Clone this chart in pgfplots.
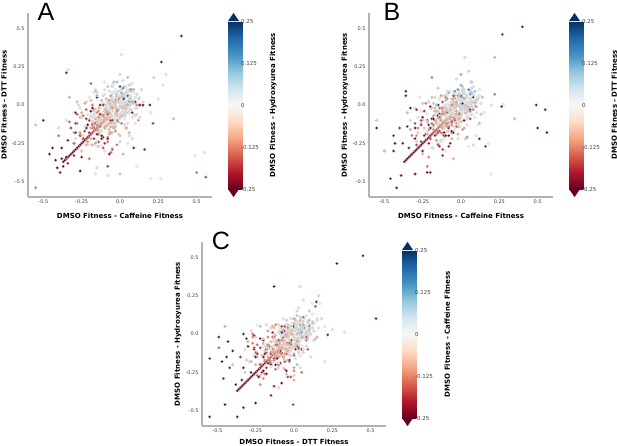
\documentclass[border=0pt]{standalone}
\usepackage{pgfplots}
\pgfplotsset{compat=1.18}
\usepackage{pgfplotstable}
\usepackage{fontspec}
\setmainfont{DejaVu Sans}
\newfontfamily\letterfont{Liberation Sans}
\definecolor{cbred}{RGB}{103,0,31}
\definecolor{cbblue}{RGB}{5,48,97}
\pgfplotsset{colormap={RdBu}{rgb255=(103,0,31) rgb255=(178,24,43) rgb255=(214,96,77) rgb255=(244,165,130) rgb255=(253,219,199) rgb255=(247,247,247) rgb255=(209,229,240) rgb255=(146,197,222) rgb255=(67,147,195) rgb255=(33,102,172) rgb255=(5,48,97)}}

% shared genes: c = DMSO-Caffeine, d = DMSO-DTT, h = DMSO-Hydroxyurea
\pgfplotstableread{
c d h
0.08 0.10 0.06
0.02 0.07 0.10
0.06 0.01 0.04
0.10 0.05 0.02
0.03 0.12 0.07
0.07 0.04 0.11
0.00 0.06 0.03
0.05 0.09 -0.01
0.04 0.02 0.05
0.01 0.08 0.00
0.07 0.00 0.06
-0.01 0.04 0.08
0.05 0.06 -0.02
0.09 0.03 0.03
0.02 -0.02 0.04
0.06 0.10 0.02
0.00 0.01 0.02
-0.03 0.05 -0.01
0.04 -0.03 0.01
0.02 0.03 -0.05
-0.04 -0.01 0.04
0.06 0.04 0.00
-0.02 0.07 0.05
0.01 -0.05 -0.02
0.03 0.00 0.07
-0.05 0.02 -0.03
-0.01 -0.02 0.00
-0.04 0.03 -0.05
0.02 -0.04 -0.01
-0.06 0.00 0.02
0.00 0.02 -0.06
-0.03 -0.06 0.01
0.03 0.01 -0.03
-0.05 0.05 0.03
0.01 -0.01 -0.04
-0.02 0.04 0.04
-0.05 -0.04 -0.06
-0.08 0.00 -0.03
-0.02 -0.07 -0.05
-0.06 -0.02 0.00
-0.03 -0.05 -0.09
-0.09 -0.06 -0.04
-0.04 0.01 -0.07
-0.07 -0.03 -0.01
0.00 -0.06 -0.03
-0.06 -0.08 -0.06
-0.08 -0.07 -0.09
-0.11 -0.05 -0.06
-0.05 -0.10 -0.08
-0.09 -0.04 -0.12
-0.12 -0.09 -0.05
-0.06 -0.06 -0.10
-0.10 -0.11 -0.07
-0.07 -0.03 -0.04
-0.11 -0.10 -0.12
-0.14 -0.08 -0.09
-0.08 -0.13 -0.11
-0.12 -0.12 -0.15
-0.15 -0.11 -0.08
-0.09 -0.09 -0.14
-0.13 -0.14 -0.10
-0.15 -0.13 -0.17
-0.18 -0.12 -0.14
-0.12 -0.17 -0.15
-0.16 -0.16 -0.19
-0.19 -0.15 -0.12
-0.13 -0.14 -0.18
-0.20 -0.18 -0.22
-0.23 -0.17 -0.19
-0.17 -0.22 -0.20
-0.21 -0.21 -0.25
-0.25 -0.05 -0.10
-0.22 0.02 -0.06
-0.18 -0.08 0.01
-0.28 -0.12 -0.15
-0.20 0.05 -0.02
-0.15 0.08 -0.04
-0.10 0.10 0.03
-0.12 -0.20 -0.06
-0.05 -0.18 -0.10
0.05 -0.12 -0.04
0.08 -0.08 0.02
0.10 -0.02 -0.05
0.12 0.04 0.06
-0.08 0.12 0.08
-0.02 0.15 0.10
0.02 0.16 0.04
-0.16 -0.25 -0.12
-0.08 -0.24 -0.15
0.00 -0.20 -0.08
-0.24 -0.20 -0.04
-0.30 -0.18 -0.12
-0.18 0.00 -0.14
-0.12 0.03 -0.10
-0.06 0.06 -0.12
0.04 0.08 -0.08
-0.10 -0.14 0.05
-0.04 -0.10 0.06
-0.14 -0.04 0.04
0.06 -0.05 0.09
-0.20 -0.10 -0.20
-0.25 -0.08 -0.32
-0.18 -0.02 -0.28
-0.10 0.00 -0.30
-0.05 -0.10 -0.35
0.05 0.00 -0.27
-0.22 -0.15 -0.40
-0.12 -0.22 -0.33
0.08 -0.05 -0.26
-0.30 -0.25 -0.45
-0.02 0.04 -0.22
0.10 0.02 -0.20
-0.15 0.05 -0.25
-0.10 -0.30 -0.05
-0.05 -0.28 0.02
0.02 -0.32 -0.10
-0.20 -0.35 -0.15
-0.15 -0.27 0.00
0.05 -0.25 -0.02
-0.25 -0.30 -0.08
0.08 -0.22 0.05
-0.08 -0.40 -0.20
-0.30 -0.33 -0.22
-0.02 -0.26 -0.14
0.00 -0.24 0.06
-0.30 -0.05 -0.02
-0.28 0.02 -0.08
-0.35 -0.10 -0.05
-0.32 -0.15 -0.20
-0.27 0.00 0.05
-0.40 -0.20 -0.15
-0.26 -0.08 -0.12
-0.33 0.05 -0.10
-0.38 -0.28 -0.25
-0.29 -0.22 -0.03
0.06 0.06 0.08
0.09 0.08 0.01
-0.01 0.09 0.06
0.04 0.11 0.00
0.08 0.02 0.07
0.11 0.07 0.04
0.01 0.05 0.09
0.05 0.03 -0.03
0.02 0.00 0.03
-0.02 0.02 0.07
0.03 0.05 0.05
0.07 0.06 -0.01
-0.03 0.08 0.02
0.00 0.04 -0.02
0.04 -0.01 0.02
0.01 0.10 0.05
-0.01 -0.03 0.03
-0.04 0.00 -0.02
0.00 -0.01 -0.03
-0.03 0.03 0.01
-0.06 0.04 -0.04
0.02 0.02 0.00
-0.02 -0.04 -0.06
-0.05 -0.02 0.03
0.03 -0.06 -0.02
-0.01 0.06 -0.01
-0.07 -0.05 -0.02
-0.03 -0.02 -0.07
-0.06 -0.06 -0.08
-0.09 -0.02 -0.05
-0.04 -0.08 -0.02
-0.08 -0.09 -0.10
-0.02 -0.03 -0.09
-0.10 -0.07 -0.03
-0.05 0.00 -0.01
-0.07 -0.10 -0.07
-0.10 -0.08 -0.11
-0.13 -0.06 -0.08
-0.07 -0.12 -0.09
-0.11 -0.11 -0.13
-0.14 -0.10 -0.06
-0.09 -0.05 -0.11
-0.13 -0.12 -0.14
-0.16 -0.09 -0.12
-0.10 -0.15 -0.13
-0.17 -0.14 -0.10
-0.17 -0.15 -0.18
-0.21 -0.13 -0.16
-0.14 -0.19 -0.17
-0.24 -0.22 -0.20
-0.26 -0.20 -0.24
-0.26 -0.02 -0.04
-0.21 -0.06 0.02
-0.19 0.03 -0.09
-0.16 0.10 0.00
-0.11 0.06 0.06
-0.07 0.09 -0.03
-0.13 -0.17 -0.02
-0.03 -0.14 -0.12
0.03 -0.09 0.00
0.07 -0.03 -0.06
0.09 0.10 0.09
-0.05 0.13 0.02
0.06 0.13 0.07
-0.22 -0.26 -0.10
-0.28 -0.06 -0.18
-0.04 -0.15 0.04
-0.17 -0.03 -0.18
0.11 -0.06 0.05
0.12 0.00 0.10
0.00 0.12 0.13
-0.19 0.14 0.18
0.00 0.12 0.20
0.05 0.06 0.22
0.07 0.10 0.15
-0.03 0.03 0.17
0.08 0.02 0.12
0.00 0.20 0.05
0.05 0.18 0.10
-0.10 0.15 -0.02
0.15 0.02 -0.05
0.20 -0.05 0.00
0.12 -0.10 -0.12
0.11 -0.02 0.05
-0.03 0.10 0.00
0.06 0.13 -0.04
-0.07 0.01 0.09
0.09 -0.06 -0.01
0.01 0.08 0.12
0.13 0.05 0.01
-0.02 -0.05 0.06
0.04 0.00 -0.07
-0.05 0.12 0.04
0.07 0.09 0.08
0.01 -0.07 0.10
-0.05 0.02 0.08
0.07 -0.03 -0.06
0.10 -0.07 0.03
-0.02 0.06 -0.10
-0.09 -0.04 0.06
0.05 0.09 -0.02
0.02 -0.02 0.10
-0.08 0.03 -0.05
-0.03 -0.10 0.01
0.09 0.01 -0.08
0.06 0.05 0.04
-0.10 0.07 -0.02
-0.01 0.05 -0.08
-0.06 -0.09 0.04
-0.10 0.00 0.07
0.03 -0.13 -0.05
-0.07 0.03 -0.12
0.06 -0.05 0.02
-0.05 0.07 -0.01
0.00 -0.08 -0.11
-0.13 -0.02 -0.06
-0.02 -0.11 0.06
0.02 0.01 0.03
0.04 -0.05 -0.13
-0.14 -0.04 -0.11
0.00 -0.09 0.01
-0.09 -0.13 0.04
0.04 0.00 -0.08
-0.12 -0.10 -0.15
-0.04 0.03 -0.01
-0.16 -0.08 -0.04
-0.01 -0.03 -0.14
-0.07 -0.16 -0.09
0.02 -0.05 0.03
-0.10 -0.01 0.00
-0.04 0.01 -0.16
-0.14 -0.17 -0.07
-0.02 -0.03 -0.12
0.01 -0.12 -0.16
-0.11 0.01 -0.03
-0.18 -0.15 -0.13
-0.04 -0.07 0.00
-0.07 -0.19 -0.11
-0.17 -0.04 -0.06
-0.12 -0.10 -0.19
0.00 -0.01 -0.08
-0.03 -0.13 -0.04
-0.19 -0.07 -0.02
-0.10 -0.07 -0.04
-0.15 -0.19 -0.18
-0.19 -0.22 -0.09
-0.06 -0.10 -0.22
-0.16 -0.03 -0.06
-0.03 -0.17 -0.14
-0.14 -0.14 -0.02
-0.09 -0.04 -0.17
-0.22 -0.09 -0.11
-0.11 -0.21 -0.20
-0.07 -0.18 -0.08
-0.05 -0.02 -0.14
-0.08 -0.21 -0.14
-0.22 -0.09 -0.19
-0.13 -0.06 -0.23
-0.26 -0.18 -0.10
-0.10 -0.25 -0.20
-0.18 -0.11 -0.07
-0.06 -0.14 -0.18
-0.21 -0.24 -0.13
-0.15 -0.19 -0.26
-0.24 -0.07 -0.15
-0.12 -0.10 -0.11
-0.18 -0.26 -0.09
-0.26 -0.19 -0.13
-0.14 -0.24 -0.27
-0.11 -0.28 -0.18
-0.30 -0.25 -0.15
-0.16 -0.12 -0.23
-0.29 -0.18 -0.26
-0.12 -0.20 -0.29
-0.15 -0.16 -0.17
0.06 -0.01 0.03
-0.01 0.06 0.00
0.04 0.07 -0.02
-0.03 0.01 0.05
0.05 -0.03 0.00
0.01 0.05 0.07
0.07 0.03 0.01
-0.01 -0.02 0.04
-0.04 0.00 0.03
0.03 -0.03 -0.04
0.04 -0.05 0.01
-0.02 0.02 -0.06
-0.06 -0.03 0.02
0.02 0.04 -0.02
0.00 -0.02 0.04
-0.05 0.01 -0.04
-0.03 0.00 -0.07
-0.06 -0.07 0.00
-0.08 -0.02 0.01
-0.01 -0.09 -0.05
-0.06 -0.01 -0.09
0.01 -0.05 -0.01
-0.05 0.01 -0.03
-0.02 -0.07 -0.08
-0.03 -0.10 -0.06
-0.10 -0.03 -0.09
-0.05 -0.02 -0.11
-0.12 -0.08 -0.04
-0.04 -0.12 -0.09
-0.08 -0.04 -0.02
-0.02 -0.06 -0.08
-0.10 -0.11 -0.05
-0.13 -0.09 -0.06
-0.06 -0.12 -0.13
-0.05 -0.14 -0.08
-0.11 -0.07 -0.15
-0.15 -0.12 -0.07
-0.07 -0.05 -0.11
-0.09 -0.11 -0.05
-0.14 -0.08 -0.13
0.10 -0.12 -0.01
-0.16 0.09 -0.10
0.02 0.11 -0.15
-0.19 -0.08 0.05
0.06 -0.18 -0.09
-0.09 0.04 0.09
0.11 0.00 -0.13
-0.12 -0.17 0.02
-0.02 -0.10 -0.19
-0.17 0.08 -0.02
-0.17 -0.06 0.05
0.04 -0.15 -0.21
0.06 -0.20 -0.03
-0.13 0.00 -0.24
-0.23 -0.14 0.01
-0.01 0.04 -0.14
-0.05 -0.18 0.06
-0.22 -0.03 -0.17
-0.15 -0.24 -0.07
0.03 -0.07 -0.22
-0.11 0.00 -0.22
-0.20 -0.26 -0.01
-0.25 -0.08 0.01
-0.05 -0.29 -0.18
-0.19 -0.04 -0.28
-0.01 -0.19 -0.06
-0.23 0.01 -0.10
-0.08 -0.22 -0.27
-0.29 -0.12 -0.20
-0.12 -0.27 -0.02
-0.33 -0.11 -0.16
-0.07 -0.32 -0.25
-0.25 -0.34 -0.30
-0.04 -0.15 -0.10
-0.29 -0.05 -0.24
-0.14 -0.27 -0.06
-0.34 -0.23 -0.28
-0.11 -0.06 -0.13
-0.21 -0.13 -0.34
-0.06 -0.31 -0.17
0.08 0.14 -0.03
-0.13 -0.12 0.06
-0.15 0.06 0.11
0.04 -0.15 -0.09
0.14 0.10 0.05
-0.08 -0.05 -0.13
-0.04 0.15 0.09
0.13 -0.08 -0.06
0.06 0.02 0.15
-0.12 -0.13 -0.02
-0.03 -0.01 0.07
0.03 0.07 -0.03
-0.05 0.08 0.02
0.06 0.01 -0.06
0.04 -0.05 0.06
-0.06 -0.04 -0.01
0.02 0.05 0.08
-0.02 0.04 -0.04
-0.05 0.03 -0.07
0.03 -0.07 -0.01
0.04 -0.02 -0.09
-0.03 -0.10 0.02
-0.09 0.02 0.00
-0.08 -0.05 -0.10
0.01 0.04 -0.02
0.00 -0.08 -0.06
-0.01 -0.11 -0.09
-0.11 -0.05 -0.01
-0.06 -0.13 0.00
-0.14 -0.02 -0.07
-0.02 -0.04 -0.13
-0.09 -0.14 -0.12
0.00 -0.06 -0.03
-0.12 -0.10 -0.04
-0.15 -0.05 -0.13
-0.09 -0.15 -0.05
-0.17 -0.10 -0.04
-0.06 -0.18 -0.11
-0.08 -0.06 -0.17
-0.18 -0.13 -0.16
-0.10 -0.04 -0.07
-0.14 -0.16 -0.08
0.40 0.45 0.51
0.27 0.28 0.46
0.56 -0.47 -0.18
0.50 -0.44 -0.15
0.55 -0.31 -0.03
0.49 -0.33 0.00
0.35 -0.09 -0.09
0.01 0.33 0.01
0.025 0.04 0.31
-0.06 -0.06 -0.06
-0.07 -0.07 -0.07
-0.08 -0.08 -0.08
-0.09 -0.09 -0.09
-0.10 -0.10 -0.10
-0.11 -0.11 -0.11
-0.12 -0.12 -0.12
-0.13 -0.13 -0.13
-0.14 -0.14 -0.14
-0.15 -0.15 -0.15
-0.16 -0.16 -0.16
-0.17 -0.17 -0.17
-0.18 -0.18 -0.18
-0.19 -0.19 -0.19
-0.20 -0.20 -0.20
-0.21 -0.21 -0.21
-0.22 -0.22 -0.22
-0.23 -0.23 -0.23
-0.24 -0.24 -0.24
-0.25 -0.25 -0.25
-0.26 -0.26 -0.26
-0.27 -0.27 -0.27
-0.28 -0.28 -0.28
-0.29 -0.29 -0.29
-0.30 -0.30 -0.30
-0.31 -0.31 -0.31
-0.32 -0.32 -0.32
-0.33 -0.33 -0.33
-0.34 -0.34 -0.34
-0.35 -0.35 -0.35
-0.36 -0.36 -0.36
-0.37 -0.37 -0.37
}\genes

\pgfplotstableread{
x y v
-0.35 0.21 -0.30
-0.34 0.23 -0.02
-0.50 -0.10 -0.30
-0.55 -0.13 -0.08
-0.55 -0.54 -0.15
0.28 0.13 0.01
0.22 0.18 -0.05
0.25 0.04 0.02
0.215 -0.12 0.22
0.195 0.00 -0.28
0.15 0.00 -0.30
0.13 0.00 -0.30
0.16 -0.29 -0.30
0.09 -0.28 -0.28
0.20 -0.48 -0.02
0.265 -0.48 0.01
0.11 -0.40 0.00
-0.26 -0.43 -0.30
-0.39 -0.44 -0.30
-0.44 -0.28 -0.30
-0.46 -0.32 -0.30
-0.42 -0.36 -0.28
-0.38 -0.35 -0.30
-0.35 -0.34 -0.26
-0.41 -0.41 -0.30
-0.37 -0.40 -0.30
-0.34 -0.38 -0.22
-0.15 -0.41 -0.03
-0.08 -0.46 -0.05
0.00 -0.45 -0.08
-0.16 -0.45 0.02
0.30 0.20 -0.02
-0.40 -0.15 -0.05
}\extraA

\pgfplotstableread{
x y v
0.22 0.31 -0.10
-0.55 -0.10 -0.08
-0.55 -0.15 -0.30
-0.50 -0.30 -0.10
-0.44 -0.20 -0.30
-0.43 -0.25 -0.28
-0.44 -0.30 -0.30
-0.46 -0.48 -0.30
-0.42 -0.54 -0.30
-0.39 -0.46 -0.25
0.195 -0.45 0.00
-0.22 -0.44 -0.30
-0.20 -0.44 -0.30
0.276 0.005 0.02
0.265 -0.01 -0.30
0.16 -0.27 -0.30
0.22 0.07 0.15
-0.36 0.09 -0.28
-0.36 0.06 -0.30
-0.33 -0.02 -0.25
-0.35 -0.14 -0.30
0.12 -0.22 -0.30
0.18 -0.25 0.00
}\extraB

\pgfplotstableread{
x y v
-0.13 0.31 0.30
0.535 0.10 -0.30
-0.55 -0.54 -0.30
-0.37 -0.54 -0.30
-0.55 -0.16 -0.30
-0.49 -0.02 0.30
-0.49 -0.09 0.15
-0.005 -0.46 0.20
-0.45 -0.46 -0.30
-0.33 -0.48 -0.28
0.146 0.21 -0.30
0.17 0.20 -0.02
0.22 -0.005 0.25
-0.45 0.05 -0.10
-0.43 -0.05 -0.30
-0.40 -0.11 -0.28
-0.46 -0.29 -0.30
-0.42 -0.22 -0.30
-0.38 -0.33 -0.30
0.16 0.25 -0.05
0.25 0.03 -0.02
0.20 -0.18 -0.02
}\extraC

\pgfplotsset{
  panel/.style={
    scale only axis, width=184pt, height=184pt,
    xmin=-0.6, xmax=0.6, ymin=-0.6, ymax=0.6,
    axis x line*=bottom, axis y line*=left,
    axis line style={black!30, line width=1.2pt},
    xtick={-0.5,-0.25,0,0.25,0.5}, xticklabels={-0.5,-0.25,0.0,0.25,0.5},
    ytick={-0.5,-0.25,0,0.25,0.5}, yticklabels={-0.5,-0.25,0.0,0.25,0.5},
    major tick length=0pt,
    tick label style={font=\fontsize{5}{6}\selectfont, text=black!75},
    xticklabel style={yshift=1pt},
    label style={font=\fontsize{7}{8}\selectfont\bfseries},
    xlabel style={at={(axis description cs:0.5,-0.1)}, anchor=center},
    ylabel style={at={(axis description cs:-0.13,0.5)}, anchor=center},
    colormap name=RdBu, point meta min=-0.25, point meta max=0.25,
    colorbar,
    colorbar style={
      scale only axis, width=11pt, height=168pt,
      at={(parent axis.south east)}, anchor=south west, xshift=7.5pt, yshift=8pt,
      ytick={-0.25,-0.125,0,0.125,0.25}, yticklabels={-0.25,-0.125,0,0.125,0.25},
      major tick length=0pt, axis line style={draw=none},
      yticklabel style={font=\fontsize{5.5}{6}\selectfont, text=black!75, xshift=-1.5pt},
      ylabel style={at={(axis description cs:4.1,0.5)}, anchor=center, font=\fontsize{7}{8}\selectfont\bfseries},
      clip=false,
      extra description/.code={
        \fill[cbred] (axis description cs:0,0) -- (axis description cs:1,0) -- (axis description cs:0.5,-0.048) -- cycle;
        \fill[cbblue] (axis description cs:0,1) -- (axis description cs:1,1) -- (axis description cs:0.5,1.048) -- cycle;
      },
    },
  },
  dots/.style={scatter, only marks, mark=*, mark size=1.5pt, point meta=explicit,
    scatter/use mapped color={draw=black!22, fill=mapped color}, line width=0.2pt},
}

\begin{document}
\begin{tikzpicture}
\begin{axis}[panel, at={(28pt,-197pt)}, anchor=south west,
  xlabel={DMSO Fitness - Caffeine Fitness}, ylabel={DMSO Fitness - DTT Fitness},
  colorbar style={ylabel={DMSO Fitness - Hydroxyurea Fitness}}]
\addplot[dots] table[x=c, y=d, meta=h] {\genes};
\addplot[dots] table[x=x, y=y, meta=v] {\extraA};
\end{axis}
\begin{axis}[panel, at={(369pt,-197pt)}, anchor=south west,
  xlabel={DMSO Fitness - Caffeine Fitness}, ylabel={DMSO Fitness - Hydroxyurea Fitness},
  colorbar style={ylabel={DMSO Fitness - DTT Fitness}}]
\addplot[dots] table[x=c, y=h, meta=d] {\genes};
\addplot[dots] table[x=x, y=y, meta=v] {\extraB};
\end{axis}
\begin{axis}[panel, at={(202pt,-426pt)}, anchor=south west,
  xlabel style={at={(axis description cs:0.5,-0.085)}},
  xlabel={DMSO Fitness - DTT Fitness}, ylabel={DMSO Fitness - Hydroxyurea Fitness},
  colorbar style={ylabel={DMSO Fitness - Caffeine Fitness}}]
\addplot[dots] table[x=d, y=h, meta=c] {\genes};
\addplot[dots] table[x=x, y=y, meta=v] {\extraC};
\end{axis}
\node[font=\letterfont\fontsize{25}{25}\selectfont] at (46pt,-12pt) {A};
\node[font=\letterfont\fontsize{25}{25}\selectfont] at (392pt,-12pt) {B};
\node[font=\letterfont\fontsize{25}{25}\selectfont] at (221pt,-241pt) {C};
\pgfresetboundingbox
\useasboundingbox (0,0) rectangle (617pt,-445pt);
\end{tikzpicture}
\end{document}
